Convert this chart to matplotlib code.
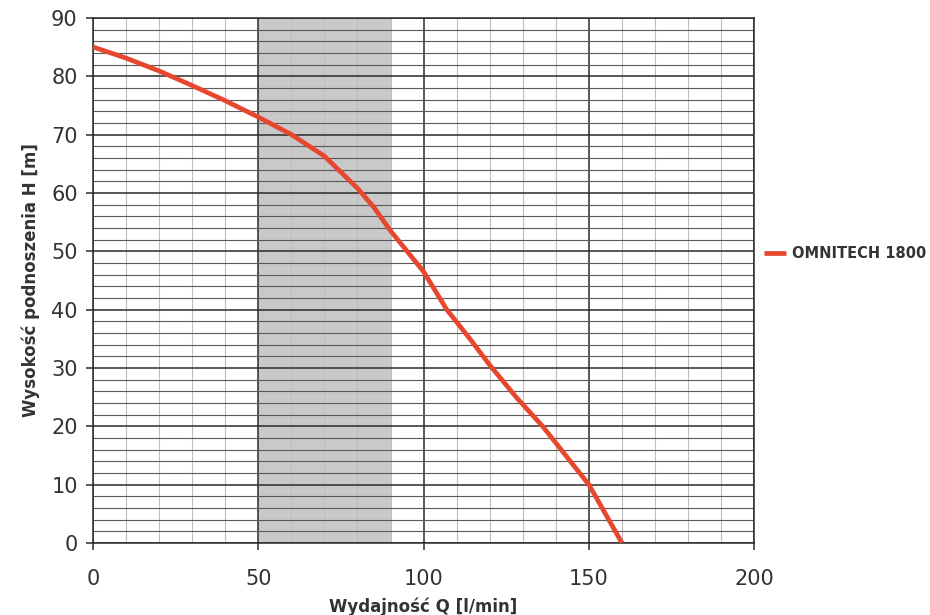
import matplotlib
matplotlib.use("Agg")
import matplotlib.pyplot as plt
from matplotlib.ticker import MultipleLocator

# Pump performance curve: flow rate Q [l/min] vs. head H [m]
flow_q = [0, 10, 20, 30, 40, 50, 60, 70, 80, 85, 90, 95, 100, 107, 114, 120,
          128, 136, 143, 150, 155, 160]
head_h = [85, 83.1, 80.9, 78.4, 75.8, 73.0, 70.0, 66.3, 60.8, 57.5, 53.5, 50,
          46.5, 40, 35, 30.5, 25, 20, 15, 10, 5, 0]
series_name = "OMNITECH 1800"

# Recommended operating range
range_start, range_end = 50, 90

x_ticks = [0, 50, 100, 150, 200]
y_ticks = [0, 10, 20, 30, 40, 50, 60, 70, 80, 90]

text_color = "#333333"
curve_color = "#E8472F"

plt.rcParams["font.family"] = ["DejaVu Sans"]

fig = plt.figure(figsize=(9.30, 6.15), dpi=100)
ax = fig.add_axes([0.100, 0.117, 0.711, 0.854])

ax.set_xlim(0, 200)
ax.set_ylim(0, 90)

ax.axvspan(range_start, range_end, color="#c9c9c9", zorder=0, lw=0)

# Grid: dark majors, fine minors
ax.xaxis.set_major_locator(MultipleLocator(50))
ax.xaxis.set_minor_locator(MultipleLocator(10))
ax.yaxis.set_major_locator(MultipleLocator(10))
ax.yaxis.set_minor_locator(MultipleLocator(2))
ax.grid(which="major", axis="both", color="#2b2b2b", lw=1.1, zorder=1)
ax.grid(which="minor", axis="x", color="#bdbdbd", lw=0.8, zorder=1)
ax.grid(which="minor", axis="y", color="#5a5a5a", lw=0.8, zorder=1)
ax.set_axisbelow(True)

for side in ["left", "right", "top", "bottom"]:
    ax.spines[side].set_color("#2b2b2b")
    ax.spines[side].set_linewidth(1.1)

ax.set_xticks(x_ticks)
ax.set_yticks(y_ticks)
ax.tick_params(which="major", direction="out", length=5, width=1.1, color="#2b2b2b",
               labelsize=15, labelcolor=text_color)
ax.tick_params(which="minor", length=0)
ax.tick_params(axis="x", pad=14)
ax.tick_params(axis="y", pad=6)

ax.plot(flow_q, head_h, color=curve_color, lw=3.4, solid_capstyle="butt",
        solid_joinstyle="round", label=series_name, zorder=3)

ax.set_xlabel("Wydajność Q [l/min]", fontsize=12, fontweight="semibold",
              color=text_color, labelpad=6)
ax.set_ylabel("Wysokość podnoszenia H [m]", fontsize=12, fontweight="semibold",
              color=text_color, labelpad=8)

leg = ax.legend(loc="center left", bbox_to_anchor=(1.0, 0.552), frameon=False,
                handlelength=1.5, handletextpad=0.45, borderaxespad=0.25,
                prop={"size": 10.5, "weight": "semibold"})
for t in leg.get_texts():
    t.set_color(text_color)

fig.savefig("out.png", dpi=100, facecolor="white")
